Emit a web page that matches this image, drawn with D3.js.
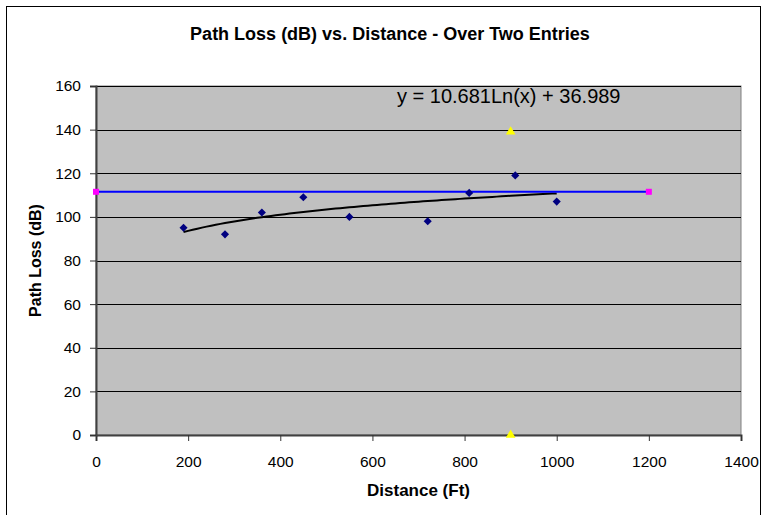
<!DOCTYPE html>
<html>
<head>
<meta charset="utf-8">
<script src="https://cdn.jsdelivr.net/npm/d3@7"></script>
<style>
  body { margin: 0; background: #fff; }
  text { font-family: "Liberation Sans", Arial, sans-serif; }
</style>
</head>
<body>
<div id="chart"></div>
<script>
// measured path loss points
var distances = [190, 280, 360, 450, 550, 720, 810, 910, 1000];
var pathLoss = [95, 92, 102, 109, 100, 98, 111, 119, 107];
// yellow markers (range)
var rangeX = [900, 900];
var rangeY = [139, 0];
// average line (magenta ends)
var avgX = [0, 1200];
var avgY = [111.5, 111.5];
// log trend coefficients
var trendA = 10.681, trendB = 36.989;
var xTicks = [0, 200, 400, 600, 800, 1000, 1200, 1400];
var yTicks = [0, 20, 40, 60, 80, 100, 120, 140, 160];

var width = 762, height = 515;
var plotL = 96, plotR = 741, plotT = 86, plotB = 435;

var svg = d3.select('#chart')
    .append('svg')
    .attr('width', width)
    .attr('height', height);

svg.append('rect')
    .attr('x', 6.5).attr('y', 6.5)
    .attr('width', 754).attr('height', 520)
    .attr('fill', '#fff')
    .attr('stroke', '#000')
    .attr('stroke-width', 1);

var x = d3.scaleLinear().domain([0, 1400]).range([plotL, plotR]);
var y = d3.scaleLinear().domain([0, 160]).range([plotB, plotT]);

svg.append('rect')
    .attr('x', plotL).attr('y', plotT)
    .attr('width', plotR - plotL).attr('height', plotB - plotT)
    .attr('fill', '#c0c0c0')
    .attr('stroke', '#808080');

// gridlines
svg.append('g').selectAll('line')
    .data(yTicks.slice(1))
    .enter().append('line')
    .attr('x1', plotL).attr('x2', plotR)
    .attr('y1', function (d) { return Math.round(y(d)) + 0.5; })
    .attr('y2', function (d) { return Math.round(y(d)) + 0.5; })
    .attr('stroke', '#000')
    .attr('stroke-width', 1);

// axes
var xAxis = svg.append('g')
    .attr('transform', 'translate(0,' + plotB + ')')
    .call(d3.axisBottom(x).tickValues(xTicks).tickFormat(d3.format('d')).tickSize(6).tickPadding(15));
var yAxis = svg.append('g')
    .attr('transform', 'translate(' + plotL + ',0)')
    .call(d3.axisLeft(y).tickValues(yTicks).tickFormat(d3.format('d')).tickSize(6).tickPadding(9));
[xAxis, yAxis].forEach(function (ax) {
    ax.attr('font-size', null).attr('font-family', null);
    ax.selectAll('text').style('font-size', '15.5px').attr('fill', '#000');
    ax.selectAll('line').attr('stroke', '#333');
    ax.select('.domain').attr('stroke', '#404040').attr('stroke-width', 2);
});

// trendline
var trendData = d3.range(190, 1001, 10).map(function (d) {
    return [d, trendA * Math.log(d) + trendB];
});
svg.append('path')
    .datum(trendData)
    .attr('d', d3.line()
        .x(function (d) { return x(d[0]); })
        .y(function (d) { return y(d[1]); }))
    .attr('fill', 'none')
    .attr('stroke', '#000')
    .attr('stroke-width', 2);

// average line
svg.append('line')
    .attr('x1', x(avgX[0])).attr('x2', x(avgX[1]))
    .attr('y1', y(avgY[0])).attr('y2', y(avgY[1]))
    .attr('stroke', '#0000ff')
    .attr('stroke-width', 2);
svg.append('g').selectAll('rect')
    .data(avgX)
    .enter().append('rect')
    .attr('x', function (d) { return x(d) - 3; })
    .attr('y', y(avgY[0]) - 3)
    .attr('width', 6).attr('height', 6)
    .attr('fill', '#ff00ff');

// data points
svg.append('g').selectAll('path')
    .data(distances)
    .enter().append('path')
    .attr('d', d3.symbol().type(d3.symbolDiamond2).size(42))
    .attr('transform', function (d, i) {
        return 'translate(' + x(d) + ',' + y(pathLoss[i]) + ')';
    })
    .attr('fill', '#000080');

// range markers
svg.append('g').selectAll('path')
    .data(rangeX)
    .enter().append('path')
    .attr('d', d3.symbol().type(d3.symbolTriangle).size(40))
    .attr('transform', function (d, i) {
        return 'translate(' + x(d) + ',' + y(rangeY[i]) + ')';
    })
    .attr('fill', '#ffff00');

// equation label
svg.append('text')
    .attr('x', 397).attr('y', 103)
    .style('font-size', '20px')
    .text('y = 10.681Ln(x) + 36.989');

// titles
svg.append('text')
    .attr('x', 390).attr('y', 40)
    .attr('text-anchor', 'middle')
    .style('font-size', '18px')
    .attr('font-weight', 'bold')
    .text('Path Loss (dB) vs. Distance - Over Two Entries');
svg.append('text')
    .attr('x', (plotL + plotR) / 2).attr('y', 496)
    .attr('text-anchor', 'middle')
    .style('font-size', '17px')
    .attr('font-weight', 'bold')
    .text('Distance (Ft)');
svg.append('text')
    .attr('transform', 'translate(41,' + (plotT + plotB) / 2 + ') rotate(-90)')
    .attr('text-anchor', 'middle')
    .style('font-size', '16px')
    .attr('font-weight', 'bold')
    .text('Path Loss (dB)');
</script>
</body>
</html>
